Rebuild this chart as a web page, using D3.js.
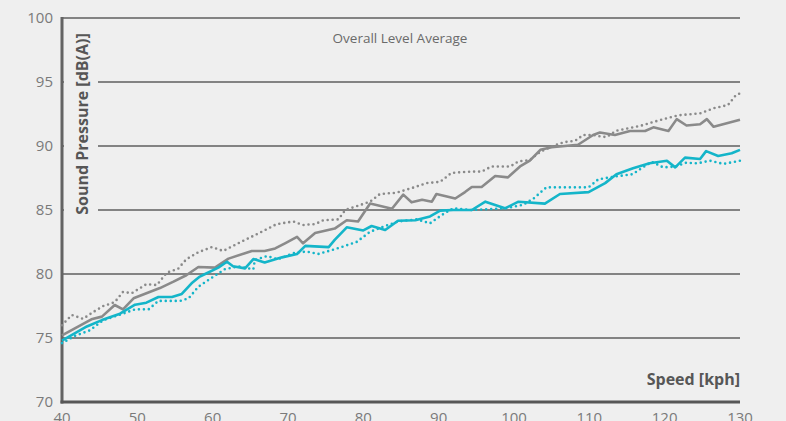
<!DOCTYPE html>
<html><head><meta charset="utf-8">
<script src="https://cdn.jsdelivr.net/npm/d3@7"></script>
<style>
html,body{margin:0;padding:0;background:#efefef;overflow:hidden;}
svg{display:block;}
text{font-family:"Open Sans",sans-serif;}
</style></head><body>
<svg id="c" width="786" height="421"></svg>
<script>
const yTicks = [70,75,80,85,90,95,100];
const xTicks = [40,50,60,70,80,90,100,110,120,130];

const graySolidX = [40,43.9,45.3,47.0,48.1,49.5,53.0,54.8,56.5,58.1,60.3,62.1,65.2,66.9,68.3,69.6,71.2,72.0,73.6,76.2,77.8,79.3,80.9,83.8,85.3,86.4,87.8,89.1,89.7,92.2,93.5,94.4,95.7,97.5,99.2,100.8,102.1,103.5,105.0,108.5,110.5,111.4,113.4,115.4,117.4,118.5,120.5,121.6,122.9,124.7,125.6,126.5,130];
const graySolidY = [75.2,76.46,76.67,77.58,77.24,78.1,78.9,79.4,79.9,80.55,80.5,81.2,81.8,81.8,82.0,82.4,82.9,82.4,83.2,83.55,84.2,84.1,85.5,85.1,86.2,85.6,85.8,85.65,86.25,85.9,86.4,86.8,86.8,87.65,87.55,88.4,88.85,89.7,89.9,90.1,90.86,91.05,90.86,91.17,91.17,91.46,91.17,92.1,91.6,91.7,92.1,91.5,92.05];

const grayDotX = [40,41.3,42.8,44.2,45.5,47.0,48.1,49.25,51.2,52.6,53.9,55.4,56.5,58.1,59.9,61.4,63.4,66.5,68.5,70.7,72.0,73.6,74.7,76.7,77.6,80.9,82.2,84.4,86.9,88.4,90.2,91.7,94.2,95.7,97.0,99.5,100.6,102.1,103.5,105.0,106.6,108.1,109.2,110.5,111.6,112.3,113.6,116.7,119.4,121.8,124.7,126.5,128.4,129.5,130];
const grayDotY = [76.0,76.8,76.5,77.05,77.5,77.8,78.6,78.5,79.2,79.14,80.1,80.4,81.15,81.7,82.1,81.8,82.4,83.3,83.9,84.1,83.83,83.9,84.2,84.27,85.0,85.65,86.25,86.35,86.8,87.1,87.2,87.9,88.0,88.0,88.4,88.4,88.8,88.9,89.55,89.95,90.3,90.4,90.86,90.86,90.73,90.7,91.2,91.56,92.03,92.4,92.55,92.95,93.2,94.0,94.1];

const cyanSolidX = [40,43.3,45.3,47.7,49.7,51.2,52.8,54.6,55.9,57.2,58.3,59.0,60.75,61.9,62.7,64.3,65.4,66.9,69.2,71.2,72.3,75.4,76.2,77.8,80.0,81.1,82.9,84.6,86.9,88.85,90.2,91.9,94.4,96.2,98.8,100.6,104.1,106.1,109.9,112.1,113.6,115.8,118.0,120.3,121.4,122.7,124.7,125.5,127.1,128.9,130];
const cyanSolidY = [74.8,75.9,76.4,76.9,77.6,77.76,78.2,78.2,78.44,79.27,79.8,80.0,80.5,80.96,80.6,80.44,81.17,80.9,81.3,81.56,82.2,82.1,82.66,83.65,83.4,83.75,83.44,84.16,84.2,84.5,84.95,85.0,85.0,85.65,85.13,85.65,85.5,86.25,86.4,87.1,87.8,88.26,88.65,88.85,88.33,89.09,88.98,89.6,89.22,89.43,89.7];

const cyanDotX = [40,41.7,43.7,45.5,48.1,49.7,51.5,52.8,55.7,56.8,58.1,59.6,61.6,63.4,65.4,65.6,67.2,68.7,70.9,72.5,74.0,76.2,79.1,80.9,82.9,84.6,87.1,88.85,90.4,91.9,94.2,96.2,98.8,101.2,102.6,104.3,109.9,111.2,113.2,115.8,116.5,118.3,119.8,121.4,122.9,124.3,126.0,127.8,130];
const cyanDotY = [74.6,75.16,75.6,76.4,76.9,77.24,77.24,77.9,77.9,78.1,79.0,79.6,80.37,80.6,80.37,81.1,81.4,81.15,81.67,81.75,81.56,81.93,82.5,83.3,83.75,84.1,84.27,83.96,84.6,85.13,85.0,85.05,85.13,85.4,85.9,86.77,86.77,87.4,87.6,87.8,88.1,88.77,88.33,88.39,88.7,88.64,88.85,88.6,88.85];

const svg = d3.select("#c");
const x = d3.scaleLinear().domain([40,130]).range([62,740]);
const y = d3.scaleLinear().domain([70,100]).range([402,18]);

// gridlines
svg.append("g").selectAll("line").data(yTicks.filter(v=>v>70)).join("line")
  .attr("x1",62).attr("x2",740).attr("y1",d=>y(d)).attr("y2",d=>y(d))
  .attr("stroke","#5f5f5f").attr("stroke-width",1.4);

// background behind y label
svg.append("rect").attr("x",64).attr("y",24).attr("width",34).attr("height",200).attr("fill","#efefef");

// y tick labels
svg.append("g").selectAll("text").data(yTicks).join("text")
  .attr("x",53).attr("y",d=>y(d)).attr("dy","0.35em").attr("text-anchor","end")
  .attr("font-size",15).attr("fill","#7a7a7a").text(d=>d);

// x tick labels
svg.append("g").selectAll("text").data(xTicks).join("text")
  .attr("x",d=>x(d)).attr("y",423).attr("text-anchor","middle")
  .attr("font-size",15).attr("fill","#7a7a7a").text(d=>d);

// axes lines
svg.append("line").attr("x1",62).attr("x2",62).attr("y1",17).attr("y2",403.5)
  .attr("stroke","#636363").attr("stroke-width",3);
svg.append("line").attr("x1",60.5).attr("x2",740).attr("y1",y(70)).attr("y2",y(70))
  .attr("stroke","#575757").attr("stroke-width",3);

const line = d3.line().x(d=>x(d[0])).y(d=>y(d[1]));
function series(xs, ys, color, dotted){
  const p = svg.append("path").datum(xs.map((v,i)=>[v,ys[i]]))
    .attr("d",line).attr("fill","none").attr("stroke",color)
    .attr("stroke-width",2.6).attr("stroke-linejoin","round");
  if(dotted){ p.attr("stroke-dasharray","0 5").attr("stroke-linecap","round"); }
}
series(grayDotX, grayDotY, "#8a8a8a", true);
series(cyanDotX, cyanDotY, "#14b5c9", true);
series(graySolidX, graySolidY, "#8a8a8a", false);
series(cyanSolidX, cyanSolidY, "#14b5c9", false);

// labels
svg.append("text").attr("transform","translate(88,124) rotate(-90)")
  .attr("text-anchor","middle").attr("font-size",16).attr("font-weight","bold")
  .attr("fill","#565656").text("Sound Pressure [dB(A)]");
svg.append("text").attr("x",740).attr("y",385).attr("text-anchor","end")
  .attr("font-size",16).attr("font-weight","bold").attr("fill","#565656").text("Speed [kph]");
svg.append("text").attr("x",400).attr("y",43).attr("text-anchor","middle")
  .attr("font-size",13.5).attr("fill","#6a6a6a").text("Overall Level Average");
</script></body></html>
